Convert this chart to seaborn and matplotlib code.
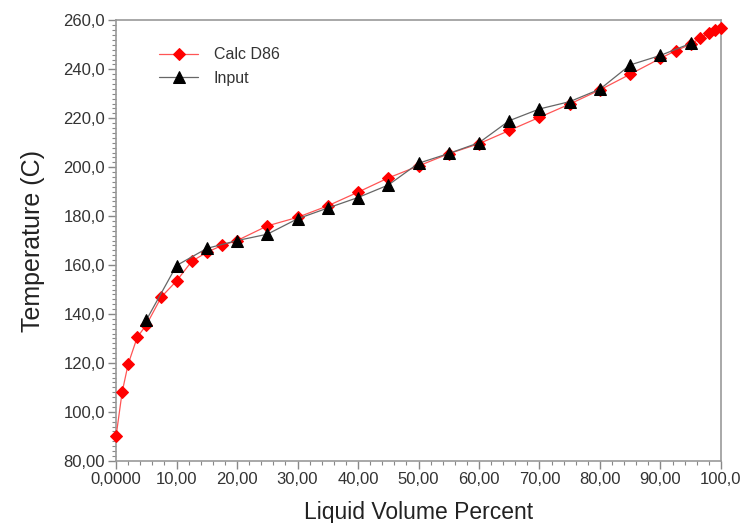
import numpy as np
import pandas as pd
import matplotlib
matplotlib.use("Agg")
import matplotlib.pyplot as plt
import seaborn as sns
from matplotlib.ticker import MultipleLocator

# Data
calc_pct = [0, 1, 2, 3.5, 5, 7.5, 10, 12.5, 15, 17.5, 20, 25, 30, 35, 40, 45, 50,
            55, 60, 65, 70, 75, 80, 85, 90, 92.5, 95, 96.5, 98, 99, 100]
calc_temp = [90.0, 108.0, 119.5, 130.5, 135.5, 147.0, 153.5, 161.5, 165.2, 168.0,
             170.0, 176.0, 179.5, 184.2, 189.8, 195.6, 200.5, 205.5, 209.6, 215.0,
             220.4, 225.8, 231.6, 238.0, 244.5, 247.6, 250.2, 252.7, 254.7, 255.9, 257.0]
input_pct = [5, 10, 15, 20, 25, 30, 35, 40, 45, 50, 55, 60, 65, 70, 75, 80, 85, 90, 95]
input_temp = [137.5, 159.8, 166.8, 170.0, 172.6, 178.9, 183.3, 187.6, 192.7, 201.6,
              205.6, 210.0, 219.0, 223.8, 226.8, 231.9, 241.8, 245.7, 250.6]

xtick_vals = [0, 10, 20, 30, 40, 50, 60, 70, 80, 90, 100]
xtick_labels = ["0,0000", "10,00", "20,00", "30,00", "40,00", "50,00",
                "60,00", "70,00", "80,00", "90,00", "100,0"]
ytick_vals = [80, 100, 120, 140, 160, 180, 200, 220, 240, 260]
ytick_labels = ["80,00", "100,0", "120,0", "140,0", "160,0", "180,0",
                "200,0", "220,0", "240,0", "260,0"]

calc_df = pd.DataFrame({"pct": calc_pct, "temp": calc_temp})
input_df = pd.DataFrame({"pct": input_pct, "temp": input_temp})

sns.set_style("white")
plt.rcParams["font.family"] = ["Liberation Sans", "DejaVu Sans"]

fig = plt.figure(figsize=(7.44, 5.23), dpi=100)
ax = fig.add_axes([0.156, 0.119, 0.813, 0.842])

sns.lineplot(data=calc_df, x="pct", y="temp", ax=ax, color="#ff5555", linewidth=0.9,
             marker="D", markersize=6, markerfacecolor="red", markeredgecolor="red",
             label="Calc D86", sort=False, clip_on=False, zorder=3)
sns.lineplot(data=input_df, x="pct", y="temp", ax=ax, color="#666666", linewidth=0.9,
             marker="^", markersize=8, markerfacecolor="black", markeredgecolor="black",
             label="Input", sort=False, clip_on=False, zorder=4)

ax.set_xlim(0, 100)
ax.set_ylim(80, 260)
ax.set_xticks(xtick_vals)
ax.set_xticklabels(xtick_labels)
ax.set_yticks(ytick_vals)
ax.set_yticklabels(ytick_labels)
ax.xaxis.set_minor_locator(MultipleLocator(2))
ax.yaxis.set_minor_locator(MultipleLocator(2))
ax.tick_params(axis="both", which="both", bottom=True, left=True, top=False, right=False)
ax.tick_params(axis="both", which="major", direction="out", length=6, width=1,
               color="#888888", labelsize=12, labelcolor="#333333", pad=2)
ax.tick_params(axis="both", which="minor", direction="out", length=3, width=0.8,
               color="#888888")
for s in ax.spines.values():
    s.set_color("#999999")
    s.set_linewidth(1.2)

ax.set_xlabel("Liquid Volume Percent", fontsize=16.5, color="#222222", labelpad=10)
ax.set_ylabel("Temperature (C)", fontsize=18, color="#222222", labelpad=13)

leg = ax.legend(loc="upper left", bbox_to_anchor=(0.048, 0.972), frameon=False,
                fontsize=11.5, handlelength=2.4, handletextpad=1.0, labelspacing=0.55)
for t in leg.get_texts():
    t.set_color("#333333")

fig.savefig("out.png", dpi=100)
